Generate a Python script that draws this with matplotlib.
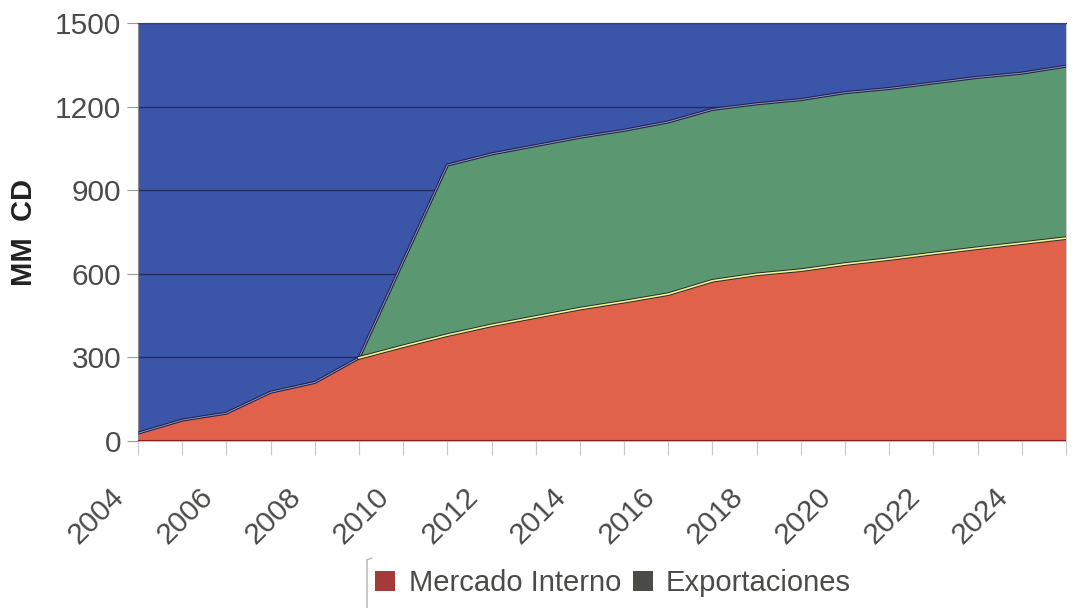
import matplotlib
matplotlib.use("Agg")
import matplotlib.pyplot as plt
from matplotlib.patches import Patch
from matplotlib.lines import Line2D
from matplotlib.transforms import ScaledTranslation
import numpy as np

plt.rcParams['font.family'] = ['Liberation Sans', 'DejaVu Sans']

years = list(range(2004, 2026))
mercado_interno = [28, 75, 100, 175, 210, 298, 340, 380, 415, 445, 475, 500,
                   527, 575, 598, 613, 635, 653, 673, 692, 710, 728]
exportaciones = [0, 0, 0, 0, 0, 0, 305, 610, 615, 615, 615, 615,
                 618, 615, 612, 612, 615, 612, 612, 613, 610, 617]
y_ticks = [0, 300, 600, 900, 1200, 1500]
x_labels = list(range(2004, 2025, 2))

text_col = '#4a4a48'
blue = '#3b55a8'
green = '#5b9871'
red = '#e0624b'

fig = plt.figure(figsize=(10.74, 6.08), dpi=100)
ax = fig.add_axes([138 / 1074, 1 - 441 / 608, (1066 - 138) / 1074, (441 - 23) / 608])
ax.set_facecolor(blue)

x = np.array(years)
mi = np.array(mercado_interno, dtype=float)
ex = np.array(exportaciones, dtype=float)
tot = mi + ex

ax.fill_between(x, 0, mi, color=red, lw=0, zorder=2)
ax.fill_between(x, mi, tot, color=green, lw=0, zorder=2)

# boundary lines
ax.plot(x, tot, color='#22233f', lw=2.2, zorder=3, solid_capstyle='butt')
ax.plot(x, tot, color='#8d8fd0', lw=0.7, zorder=3)
seg = x >= 2009
ax.plot(x[seg], mi[seg], color='#2a2a25', lw=2.6, zorder=4)
ax.plot(x[seg], mi[seg], color='#eef49a', lw=1.2, zorder=4)
ax.plot(x, np.zeros_like(x), color='#8a1e1e', lw=1.5, zorder=4)

ax.set_xlim(2004, 2025)
ax.set_ylim(0, 1500)
ax.set_yticks(y_ticks)
ax.set_yticklabels([str(v) for v in y_ticks], fontsize=21.5, color=text_col)
ax.set_xticks(years)
ax.set_xticklabels([str(y) if y in x_labels else '' for y in years],
                   fontsize=21.5, color=text_col, rotation=45, ha='right',
                   va='center', rotation_mode='anchor')
ax.tick_params(axis='y', length=8, color='#9a9a9a', pad=4)
ax.tick_params(axis='x', length=10, color='#c8c8c8', pad=27)
shift = ScaledTranslation(-18 / 100, 0, fig.dpi_scale_trans)
for lab in ax.get_xticklabels():
    lab.set_transform(lab.get_transform() + shift)

ax.grid(axis='y', color='#232c62', lw=1.0, zorder=1)
ax.set_axisbelow(True)

ax.spines['top'].set_color('#2c3f80')
ax.spines['left'].set_color('#8a8a8a')
ax.spines['bottom'].set_visible(False)
ax.spines['right'].set_color('#c8c8c8')

ax.set_ylabel('MM  CD', fontsize=21, fontweight='bold', color='#222222', labelpad=12)

# legend
handles = [Patch(facecolor='#a33b3b', edgecolor='none'),
           Patch(facecolor='#4b4b48', edgecolor='none')]
fig.legend(handles, ['Mercado Interno', 'Exportaciones'], loc='center left',
           bbox_to_anchor=(375 / 1074, 1 - 583 / 608), ncol=2, frameon=False,
           fontsize=21, handlelength=0.7, handleheight=0.7, handletextpad=0.45,
           columnspacing=0.4, labelcolor=text_col, borderpad=0, borderaxespad=0)
fig.add_artist(Line2D([367 / 1074, 367 / 1074], [1 - 560 / 608, 0],
                      color='#bdbdbd', lw=1.2, transform=fig.transFigure))
fig.add_artist(Line2D([367 / 1074, 372 / 1074], [1 - 560 / 608, 1 - 558 / 608],
                      color='#bdbdbd', lw=1.0, transform=fig.transFigure))

fig.savefig('out.png', dpi=100)
